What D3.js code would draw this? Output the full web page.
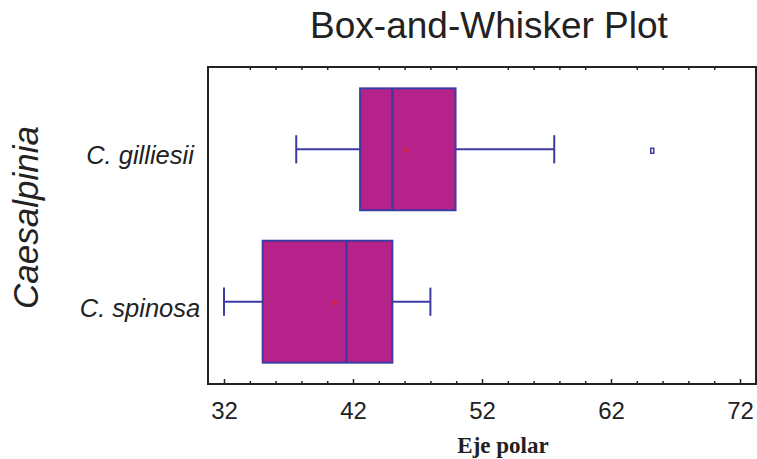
<!DOCTYPE html>
<html>
<head>
<meta charset="utf-8">
<script src="https://cdn.jsdelivr.net/npm/d3@7"></script>
<style>
  html, body { margin: 0; padding: 0; background: #fff; }
  svg { display: block; }
</style>
</head>
<body>
<svg id="chart" width="757" height="459"></svg>
<script>
// ---- data ----
const categories = ["C. gilliesii", "C. spinosa"];
const whiskerLow = [37.6, 32.0];
const q1 = [42.55, 35.0];
const medians = [45.05, 41.5];
const q3 = [49.95, 45.05];
const whiskerHigh = [57.6, 48.0];
const means = [46.1, 40.6];
const outliers = [[65.2], []];
const xTickValues = [32, 42, 52, 62, 72];
const xMinorTickValues = [34, 36, 38, 40, 44, 46, 48, 50, 54, 56, 58, 60, 64, 66, 68, 70];
const titleText = "Box-and-Whisker Plot";
const xLabel = "Eje polar";
const yLabel = "Caesalpinia";

// ---- layout ----
const frame = { left: 208, right: 756, top: 67, bottom: 384 };
const fillColor = "#b5238a";
const strokeColor = "#3b3ba3";
const axisColor = "#222";
const sans = "'Liberation Sans', Arial, Helvetica, sans-serif";

const svg = d3.select("#chart");

const x = d3.scaleLinear().domain([32, 72]).range([224, 740]);
const y = d3.scalePoint().domain(categories).range([frame.top, frame.bottom]).padding(0.54);
const step = y.step();
const boxH = step * 0.8;
const capH = step * 0.185;

// frame
svg.append("rect")
  .attr("x", frame.left).attr("y", frame.top)
  .attr("width", frame.right - frame.left).attr("height", frame.bottom - frame.top)
  .attr("fill", "none").attr("stroke", axisColor).attr("stroke-width", 2);

// bottom axis: major ticks with labels
const axB = svg.append("g").attr("transform", `translate(0,${frame.bottom})`)
  .call(d3.axisBottom(x).tickValues(xTickValues).tickSize(-5).tickPadding(18).tickFormat(d3.format("d")));
axB.select(".domain").remove();
axB.selectAll("line").attr("stroke", axisColor).attr("stroke-width", 1.5);
axB.selectAll("text").attr("fill", "#222")
  .style("font-family", sans).style("font-size", "24px");

// bottom minor ticks
const axBm = svg.append("g").attr("transform", `translate(0,${frame.bottom})`)
  .call(d3.axisBottom(x).tickValues(xMinorTickValues).tickSize(-3).tickFormat(""));
axBm.select(".domain").remove();
axBm.selectAll("line").attr("stroke", axisColor).attr("stroke-width", 1.5);

// top minor ticks
const axTm = svg.append("g").attr("transform", `translate(0,${frame.top})`)
  .call(d3.axisTop(x).tickValues(xMinorTickValues).tickSize(-3).tickFormat(""));
axTm.select(".domain").remove();
axTm.selectAll("line").attr("stroke", axisColor).attr("stroke-width", 1.5);

// boxes
const idx = d3.range(categories.length);
const g = svg.append("g");

idx.forEach(i => {
  const cy = y(categories[i]);
  g.append("line")
    .attr("x1", x(whiskerLow[i])).attr("x2", x(q1[i]))
    .attr("y1", cy).attr("y2", cy)
    .attr("stroke", strokeColor).attr("stroke-width", 2);
  g.append("line")
    .attr("x1", x(q3[i])).attr("x2", x(whiskerHigh[i]))
    .attr("y1", cy).attr("y2", cy)
    .attr("stroke", strokeColor).attr("stroke-width", 2);
  [whiskerLow[i], whiskerHigh[i]].forEach(v => {
    g.append("line")
      .attr("x1", x(v)).attr("x2", x(v))
      .attr("y1", cy - capH / 2).attr("y2", cy + capH / 2)
      .attr("stroke", strokeColor).attr("stroke-width", 2);
  });
  g.append("rect")
    .attr("x", x(q1[i])).attr("y", cy - boxH / 2)
    .attr("width", x(q3[i]) - x(q1[i])).attr("height", boxH)
    .attr("fill", fillColor).attr("stroke", strokeColor).attr("stroke-width", 2);
  g.append("line")
    .attr("x1", x(medians[i])).attr("x2", x(medians[i]))
    .attr("y1", cy - boxH / 2).attr("y2", cy + boxH / 2)
    .attr("stroke", strokeColor).attr("stroke-width", 2.5);
  const mx = x(means[i]), my = cy + 1;
  g.append("path")
    .attr("d", `M${mx - 2.5},${my}H${mx + 2.5}M${mx},${my - 2.5}V${my + 2.5}`)
    .attr("stroke", "#e8202a").attr("stroke-width", 1.5).attr("fill", "none");
  outliers[i].forEach(v => {
    g.append("rect")
      .attr("x", x(v) - 1.5).attr("y", cy - 1)
      .attr("width", 3).attr("height", 5)
      .attr("fill", "#fff").attr("stroke", strokeColor).attr("stroke-width", 1.5);
  });
});

// category labels
svg.append("g").selectAll("text").data(categories).join("text")
  .attr("x", 140).attr("y", d => y(d) + 15)
  .attr("text-anchor", "middle")
  .attr("fill", "#222")
  .style("font-family", sans)
  .style("font-style", "italic").style("font-size", "25.5px")
  .text(d => d);

// title
svg.append("text")
  .attr("x", 489).attr("y", 38)
  .attr("text-anchor", "middle").attr("fill", "#222")
  .style("font-family", sans).style("font-size", "37px")
  .text(titleText);

// x label
svg.append("text")
  .attr("x", 503).attr("y", 453)
  .attr("text-anchor", "middle").attr("fill", "#222")
  .style("font-family", "'Liberation Serif', 'Times New Roman', serif")
  .style("font-weight", "bold").style("font-size", "23px")
  .text(xLabel);

// y label
svg.append("text")
  .attr("transform", "translate(38,217.5) rotate(-90)")
  .attr("text-anchor", "middle").attr("fill", "#222")
  .style("font-family", sans)
  .style("font-style", "italic").style("font-size", "35px")
  .text(yLabel);
</script>
</body>
</html>
